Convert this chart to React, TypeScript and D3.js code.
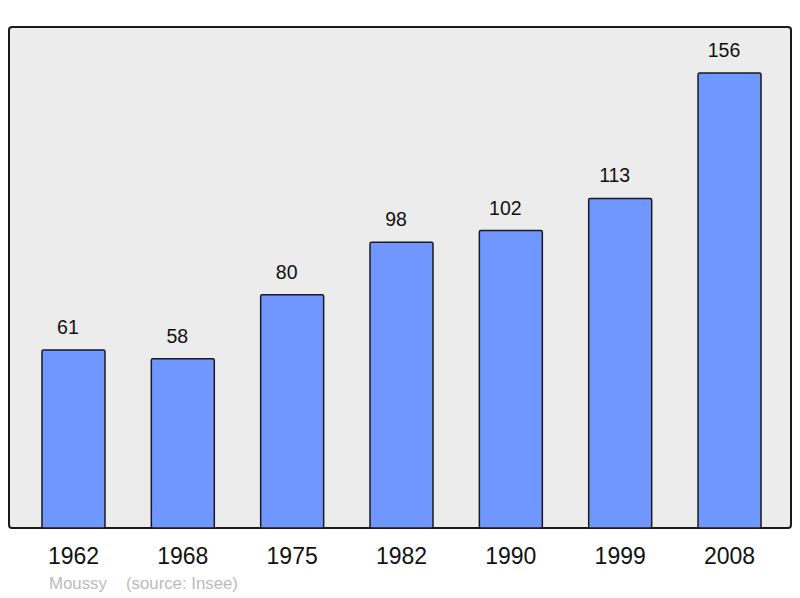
import React from "react";
import * as d3 from "d3";

const years = ["1962", "1968", "1975", "1982", "1990", "1999", "2008"];
const population = [61, 58, 80, 98, 102, 113, 156];
const commune = "Moussy";
const source = "(source: Insee)";

export default function App() {
  const W = 800, H = 598;
  const frame = { x: 9, y: 27, w: 782, h: 501 };
  const x = d3.scaleBand<string>().domain(years).range([18.8, 784.2]).paddingInner(0.424).paddingOuter(0.212);
  const y = d3.scaleLinear().domain([0, 156]).range([528, 73]);
  const font = "'Liberation Sans', Arial, sans-serif";
  return (
    <svg width={W} height={H} style={{ position: "absolute", left: 0, top: 0 }}>
      <rect x={0} y={0} width={W} height={H} fill="#ffffff" />
      <rect x={frame.x} y={frame.y} width={frame.w} height={frame.h} rx={3} ry={3} fill="#ececec" stroke="#1a1a1a" strokeWidth={2} />
      {population.map((v, i) => {
        const xs = x(years[i])!;
        const cx = xs + x.bandwidth() / 2;
        return (
          <g key={years[i]}>
            <rect x={xs} y={y(v)} width={x.bandwidth()} height={y(0) - y(v)} rx={1.5} ry={1.5} fill="#6f97ff" stroke="#1a1a1a" strokeWidth={1.5} />
            <text x={cx - 5.5} y={y(v) - 16} textAnchor="middle" fontFamily={font} fontSize={19.5} fill="#111">{v}</text>
            <text x={cx} y={564} textAnchor="middle" fontFamily={font} fontSize={23} fill="#111">{years[i]}</text>
          </g>
        );
      })}
      <text x={49} y={589} fontFamily={font} fontSize={16.8} fill="#bbbbbb">{commune}</text>
      <text x={126} y={589} fontFamily={font} fontSize={16.8} fill="#bbbbbb">{source}</text>
    </svg>
  );
}
